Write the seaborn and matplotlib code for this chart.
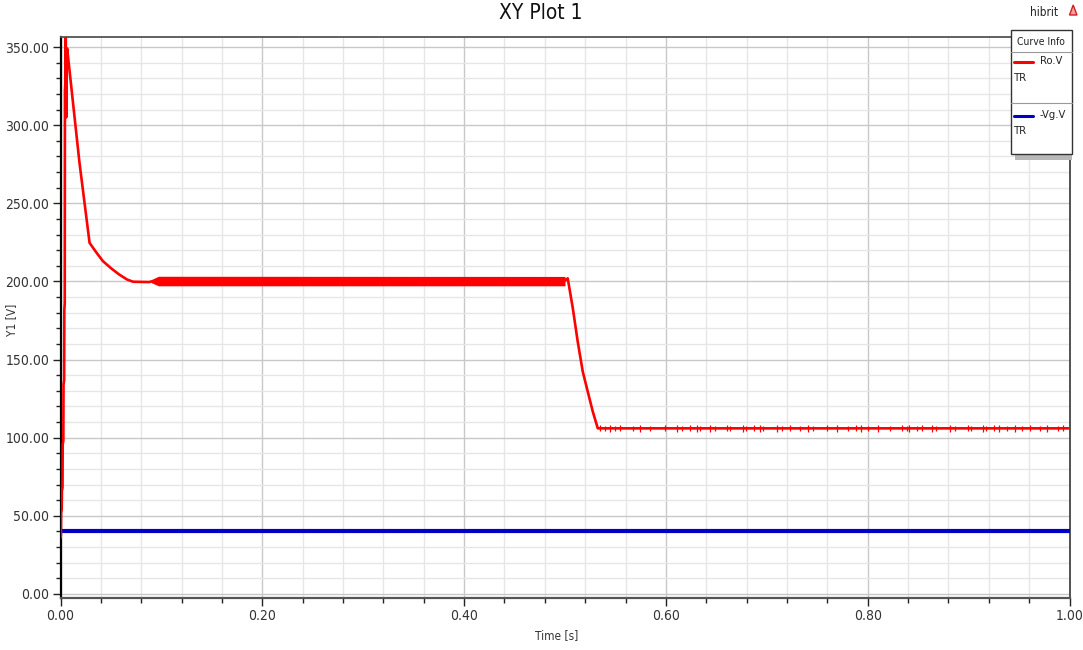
import numpy as np
import pandas as pd
import matplotlib
matplotlib.use("Agg")
import matplotlib.pyplot as plt
from matplotlib.patches import Rectangle, Polygon
from matplotlib.lines import Line2D
from matplotlib.ticker import MultipleLocator, FormatStrFormatter
import seaborn as sns

# ---- data -------------------------------------------------------------
# Ro.V start-up transient (time in s, voltage in V)
ro_head_t = [0.0000, 0.0004, 0.0006, 0.0012, 0.0014, 0.0020, 0.0022, 0.0028,
             0.0030, 0.0036, 0.0038, 0.0042, 0.0044, 0.0047, 0.0052, 0.0057,
             0.0062, 0.0066, 0.0188, 0.0288, 0.0350, 0.0420, 0.0500, 0.0580,
             0.0660, 0.0720, 0.0880, 0.0900]
ro_head_v = [36.0, 38.0, 52.0, 54.0, 66.0, 68.0, 96.0, 98.0,
             134.0, 137.0, 182.0, 186.0, 322.0, 326.0, 362.0, 305.0,
             342.0, 349.0, 276.0, 224.7, 219.0, 213.0, 208.5, 204.5,
             201.2, 199.8, 199.6, 200.0]

# switching ripple band around the 200 V regulation level
ripple_t = [0.090, 0.097, 0.500]
ripple_lo = [199.2, 197.2, 197.2]
ripple_hi = [201.2, 203.3, 203.2]

# load step: output falls to the new level
ro_drop_t = [0.5000, 0.5027, 0.5077, 0.5126, 0.5176, 0.5225, 0.5275, 0.5325]
ro_drop_v = [200.5, 202.0, 183.0, 161.5, 142.3, 129.6, 116.8, 106.0]

# settled level and the small switching spikes on it
ro_level = 106.0
ro_end_t = 0.999
spike_t = [0.535, 0.540, 0.545, 0.550, 0.555, 0.567, 0.574, 0.584, 0.599, 0.611,
           0.616, 0.624, 0.631, 0.634, 0.644, 0.649, 0.661, 0.664, 0.676, 0.679,
           0.687, 0.693, 0.696, 0.710, 0.715, 0.723, 0.733, 0.741, 0.746, 0.760,
           0.770, 0.780, 0.788, 0.793, 0.800, 0.810, 0.822, 0.834, 0.839, 0.841,
           0.849, 0.854, 0.864, 0.868, 0.882, 0.887, 0.899, 0.902, 0.914, 0.917,
           0.925, 0.930, 0.938, 0.946, 0.953, 0.961, 0.971, 0.978, 0.989, 0.994]
spike_dv = [2.0, 1.6, 2.2, 1.8, 2.0, 1.5, 2.3, 1.7, 2.0, 2.2,
            1.6, 1.9, 2.1, 1.5, 2.2, 1.8, 2.0, 1.6, 2.3, 1.7,
            1.9, 2.1, 1.5, 2.2, 1.8, 2.0, 1.6, 2.3, 1.7, 2.0,
            2.2, 1.6, 1.9, 2.1, 1.5, 2.2, 1.8, 2.0, 1.6, 2.3,
            1.7, 1.9, 2.1, 1.5, 2.2, 1.8, 2.0, 1.6, 2.3, 1.7,
            1.9, 2.1, 1.5, 2.2, 1.8, 2.0, 1.6, 2.3, 1.7, 2.0]

# -Vg.V source voltage
vg_t = [0.0, 1.0]
vg_v = [40.0, 40.0]

x_ticks = [0.0, 0.2, 0.4, 0.6, 0.8, 1.0]
y_ticks = [0, 50, 100, 150, 200, 250, 300, 350]

# ---- assemble the Ro.V trace ------------------------------------------
ro = pd.DataFrame({
    "t": ro_head_t + ro_drop_t + [ro_end_t],
    "v": ro_head_v + ro_drop_v + [ro_level],
})
vg = pd.DataFrame({"t": vg_t, "v": vg_v})
spk_lo = [ro_level - dv for dv in spike_dv]
spk_hi = [ro_level + dv for dv in spike_dv]

# ---- figure -------------------------------------------------------------
sns.set_theme(style="white")
plt.rcParams["font.family"] = ["DejaVu Sans"]
plt.rcParams["font.stretch"] = "condensed"

W, H = 1083, 650
fig = plt.figure(figsize=(W / 100, H / 100), dpi=100)
fig.patch.set_facecolor("white")
ax = fig.add_axes([60.5 / W, 1 - 598 / H, 1009 / W, 561 / H])
ax.set_facecolor("white")

RED = "#ff0000"
BLUE = "#0000c8"

sns.lineplot(data=vg, x="t", y="v", ax=ax, color=BLUE, linewidth=3.0,
             estimator=None, sort=False, zorder=3)
ax.fill_between(ripple_t, ripple_lo, ripple_hi, color=RED, linewidth=0,
                zorder=4)
sns.lineplot(data=ro, x="t", y="v", ax=ax, color=RED, linewidth=1.9,
             estimator=None, sort=False, zorder=4)
ax.vlines(spike_t, spk_lo, spk_hi, color=RED, linewidth=0.9, zorder=4)

ax.set_xlim(0.0, 1.0)
ax.set_ylim(-2.56, 356.4)

ax.xaxis.set_major_locator(plt.FixedLocator(x_ticks))
ax.xaxis.set_minor_locator(MultipleLocator(0.04))
ax.yaxis.set_major_locator(plt.FixedLocator(y_ticks))
ax.yaxis.set_minor_locator(MultipleLocator(10))
ax.xaxis.set_major_formatter(FormatStrFormatter("%.2f"))
ax.yaxis.set_major_formatter(FormatStrFormatter("%.2f"))

ax.grid(which="major", color="#c8c8c8", linewidth=1.0, zorder=0)
ax.grid(which="minor", color="#e6e6e6", linewidth=1.0, zorder=0)
ax.set_axisbelow(True)

ax.tick_params(axis="both", which="major", direction="out", length=6,
               width=1.0, color="#222222", labelsize=10, labelcolor="#333333",
               pad=2, bottom=True, left=True)
ax.tick_params(axis="both", which="minor", direction="out", length=3.5,
               width=1.0, color="#222222", bottom=True, left=True)

for side, col, lw in [("left", "#000000", 1.6), ("bottom", "#555555", 1.6),
                      ("top", "#555555", 1.3), ("right", "#444444", 1.3)]:
    ax.spines[side].set_visible(True)
    ax.spines[side].set_color(col)
    ax.spines[side].set_linewidth(lw)

ax.set_xlabel("Time [s]", fontsize=8.5, color="#333333")
ax.set_ylabel("Y1 [V]", fontsize=8.5, color="#333333")
ax.xaxis.set_label_coords((557 - 60.5) / 1009, -31 / 561)
ax.yaxis.set_label_coords((18 - 60.5) / 1009, (598 - 320) / 561)

fig.text(541 / W, 1 - 13 / H, "XY Plot 1", ha="center", va="center",
         fontsize=15, color="#111111")


def px(x, y):
    return (x / W, 1 - y / H)


# ---- curve info box ---------------------------------------------------
fig.add_artist(Rectangle(px(1015, 160), 57 / W, 6 / H, transform=fig.transFigure,
                         facecolor="#b8b8b8", edgecolor="none", zorder=5))
fig.add_artist(Rectangle(px(1011, 154), 61 / W, 124 / H, transform=fig.transFigure,
                         facecolor="white", edgecolor="#333333", linewidth=1.0,
                         zorder=6))
for ysep in (51.5, 102.5):
    fig.add_artist(Line2D([1011 / W, 1072 / W], [1 - ysep / H] * 2,
                          transform=fig.transFigure, color="#999999",
                          linewidth=0.8, zorder=7))
fig.text(*px(1041, 42), "Curve Info", ha="center", va="center", fontsize=7.5,
         color="#222222", zorder=8)
for y0, col, name in [(62, RED, "Ro.V"), (115.5, BLUE, "-Vg.V")]:
    fig.add_artist(Line2D([1014 / W, 1033 / W], [1 - y0 / H] * 2,
                          transform=fig.transFigure, color=col, linewidth=2.2,
                          zorder=8))
    fig.text(*px(1040, y0 - 1), name, ha="left", va="center", fontsize=8,
             color="#222222", zorder=8)
    fig.text(*px(1014, y0 + 16), "TR", ha="left", va="center", fontsize=8,
             color="#222222", zorder=8)

# project name and marker in the corner
fig.text(*px(1044, 12), "hibrit", ha="center", va="center", fontsize=8.5,
         color="#222222")
fig.add_artist(Polygon([px(1069.5, 15), px(1077, 15), px(1073.2, 5)],
                       closed=True, transform=fig.transFigure,
                       facecolor="#f4a0a0", edgecolor="#d02020", linewidth=1.0))

fig.savefig("out.png", dpi=100, facecolor="white")
